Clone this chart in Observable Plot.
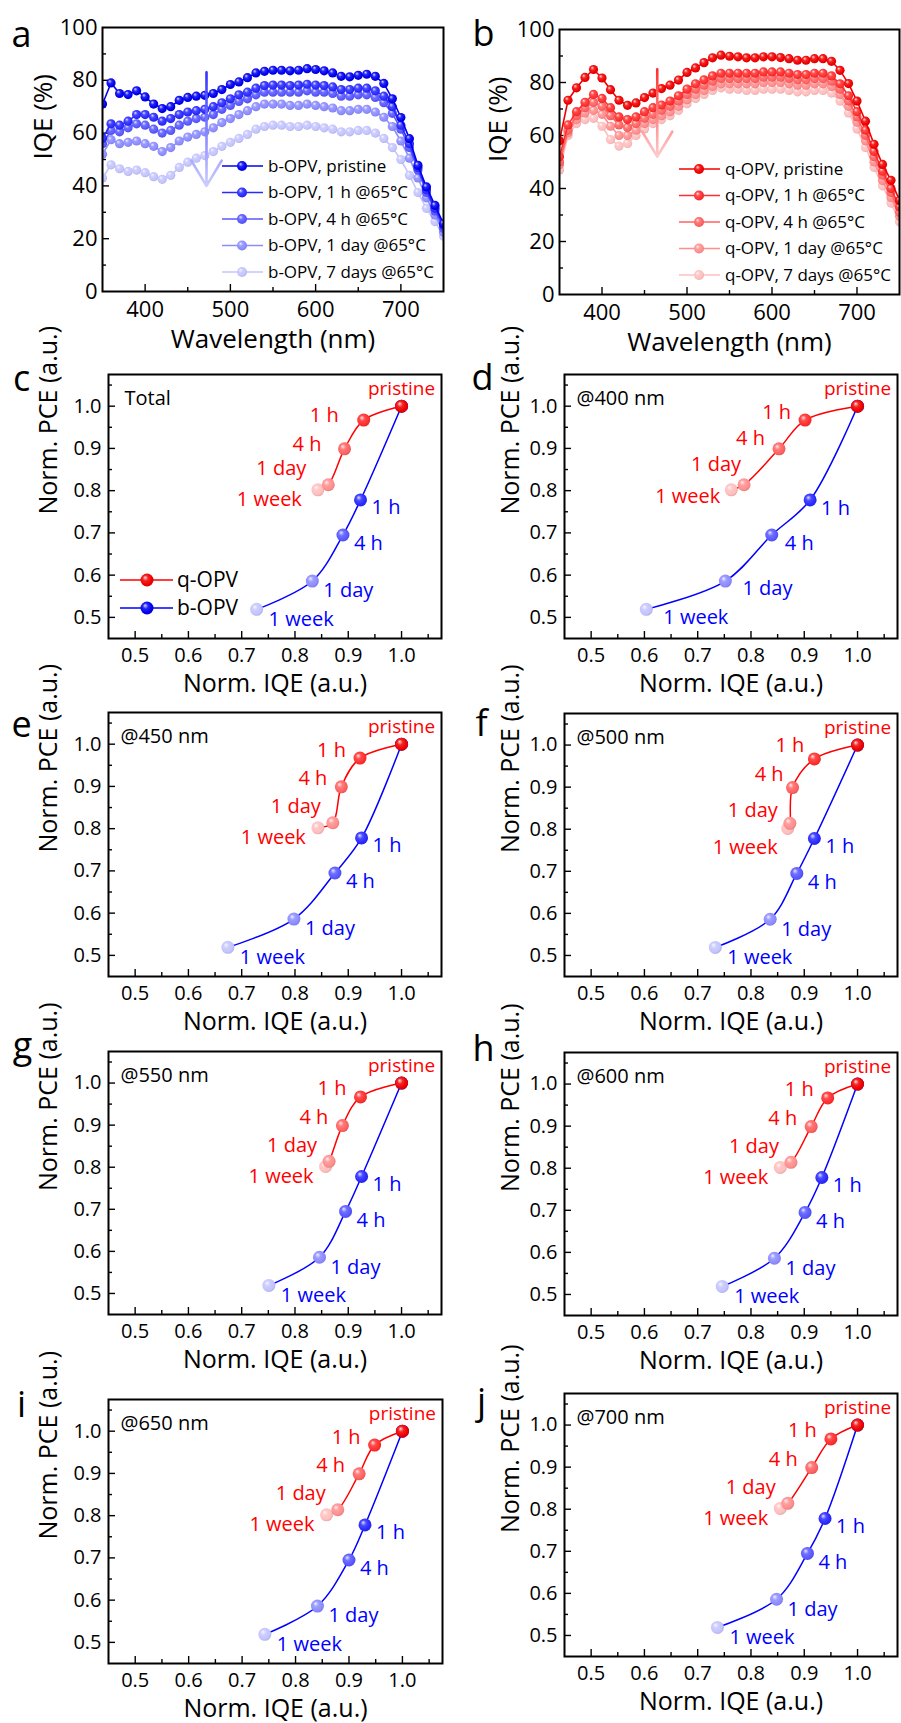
<!DOCTYPE html>
<html><head><meta charset="utf-8">
<script src="https://cdn.jsdelivr.net/npm/d3@7"></script>
<script src="https://cdn.jsdelivr.net/npm/@observablehq/plot@0.6"></script>
<style>
body{margin:0;background:#fff;}
#fig{position:relative;width:901px;height:1723px;font-family:"Open Sans",sans-serif;overflow:hidden;}
#fig svg.panel{position:absolute;overflow:visible;}
</style></head><body><div id="fig"></div>
<script>
// ---------- DATA ----------
const wavelengths = [350,360,370,380,390,400,410,420,430,440,450,460,470,480,490,500,510,520,530,540,550,560,570,580,590,600,610,620,630,640,650,660,670,680,690,700,710,720,730,740,750];

const bPristine = [71,79,75,74.6,76,73.7,71,69.3,70,72.4,73.5,74,74.3,75,76.5,78.4,79.4,81,82.8,83.4,83.8,83.8,83.6,83.8,84.4,84.1,83.6,82.8,81.5,81.3,81.9,82.3,81.5,78.8,73,65.9,57.9,47.8,39.6,32.6,25.7];
const b1h = [58,63.5,63,64.5,67,67,66,64.5,65.5,67,68,68.5,69,70,71.5,73,74.5,75.5,77,78,78.2,78.2,78,78.2,78.5,78.2,78,77.5,76.5,76.5,77,77,76,74,70,63,56,47,38.5,31.5,25];
const b4h = [56,61,60.5,62,63.5,63,61.5,60,61,63,64.5,65.5,66,67,69,70.5,72,73,74.5,75.5,75.5,75.5,75.5,75.5,76,75.5,75.5,75,74,74,74.5,74.5,73.5,71.5,67.5,61.5,54.5,46,37.5,30.5,24];
const b1d = [52,57.5,56,56.5,57,56,55,53,54.5,57,58.5,59.5,60.5,62,64,65.5,67,68.5,70,71,71,71,70.5,70.5,71,70.5,70,69.5,68.5,68.5,69,69,68,66,62.5,57,50.5,43,35.5,29,22.5];
const b7d = [43,48,46.5,45.5,46,45,43.5,42.5,44,47,49,50.5,51.5,53,55,56.5,58,59.5,61.5,62.5,63,63,62.5,62.5,63,62.5,62,61.5,60.5,60.5,61,61,60,58,54.5,50,44,37.5,31.5,26.5,21];

const qPristine = [58,73.3,78,81.9,84.9,81.7,77.3,73.3,71.4,72.3,74.3,76,77.7,79,80.9,83.8,85.5,87.5,89.3,90.3,89.9,89.7,89.3,89.3,89.7,89.7,89.4,89,88.4,88.4,89,89,88,84.6,79.6,73,65.4,56.7,49.1,43.1,35.5];
const q1h = [52,64,69,72.5,75.5,74,70.5,67,66,67,69,70.5,71.5,73,75,77.5,79.5,81,82.5,83.5,83.5,83.5,83.5,83.5,84,84,84,83.5,83,83,83.5,83.5,82.5,79.5,75,69,62,54,46.5,40,33];
const q4h = [50,62,67.5,70.5,72.5,71,67.5,64,63,64.5,66.5,68,69.5,71,73,75.5,77.5,79,80.5,81.5,81.5,81.5,81.5,81.5,82,82,82,81.5,81,81,81.5,81.5,80.5,77.5,73,67,60,52,45,38.5,31];
const q1d = [49,61,66,68.5,69.5,68,63.5,60,60,62,64.5,66,67.5,69,71,73.5,75.5,77,78.5,79.5,79.5,79.5,79.5,79.5,80,80,80,79.5,79,79,79.5,79.5,78.5,75.5,71,65,58,50,43,36.5,29.5];
const q7d = [47,60,64.5,66,66.5,63.5,58.5,56,57,60,62.5,64.5,66,67.5,69.5,72,74,75.5,77,78,77.5,77.5,77,77,77.5,77.5,77.5,77,76.5,76.5,77,77,76,73,68.5,62.5,55.5,48,41,34.5,27.5];

const bLegend = ["b-OPV, pristine","b-OPV, 1 h @65°C","b-OPV, 4 h @65°C","b-OPV, 1 day @65°C","b-OPV, 7 days @65°C"];
const qLegend = ["q-OPV, pristine","q-OPV, 1 h @65°C","q-OPV, 4 h @65°C","q-OPV, 1 day @65°C","q-OPV, 7 days @65°C"];
const arrowA = [{x: 472, from: 83, to: 40}];
const arrowB = [{x: 465, from: 85, to: 52}];

const stages = ["pristine","1 h","4 h","1 day","1 week"];
const pceQ = [1.0, 0.967, 0.899, 0.814, 0.802];
const pceB = [1.0, 0.778, 0.695, 0.586, 0.519];

const panelTitles = ["Total","@400 nm","@450 nm","@500 nm","@550 nm","@600 nm","@650 nm","@700 nm"];
const iqeQTotal = [1.0, 0.929, 0.893, 0.8625, 0.843];
const iqeBTotal = [1.0, 0.923, 0.890, 0.8325, 0.728];
const iqeQ400 = [1.0, 0.9015, 0.8526, 0.787, 0.763];
const iqeB400 = [1.0, 0.911, 0.839, 0.752, 0.6035];
const iqeQ450 = [1.0, 0.922, 0.887, 0.871, 0.843];
const iqeB450 = [1.0, 0.925, 0.875, 0.798, 0.674];
const iqeQ500 = [1.0, 0.919, 0.878, 0.873, 0.869];
const iqeB500 = [1.0, 0.919, 0.886, 0.836, 0.733];
const iqeQ550 = [1.0, 0.923, 0.889, 0.864, 0.8575];
const iqeB550 = [1.0, 0.925, 0.895, 0.846, 0.751];
const iqeQ600 = [1.0, 0.944, 0.913, 0.875, 0.855];
const iqeB600 = [1.0, 0.933, 0.9015, 0.844, 0.746];
const iqeQ650 = [1.0, 0.948, 0.919, 0.879, 0.858];
const iqeB650 = [1.0, 0.930, 0.900, 0.841, 0.7425];
const iqeQ700 = [1.0, 0.950, 0.914, 0.869, 0.855];
const iqeB700 = [1.0, 0.939, 0.906, 0.848, 0.737];

const normTicks = [0.5,0.6,0.7,0.8,0.9,1.0];
const normMinor = [0.55,0.65,0.75,0.85,0.95,1.05];
const wlTicks = [400,500,600,700];
const wlMinor = [450,550,650];
const iqeTicks = [0,20,40,60,80,100];
const iqeMinor = [10,30,50,70,90];

// ---------- STYLE ----------
const bColors = ["#0000f0","#2a2aff","#5858ff","#8c8cff","#c4c4ff"];
const qColors = ["#f00000","#ff2e2e","#ff6262","#ff8e8e","#ffbebe"];
const FONT = "'Open Sans', sans-serif";

const fig = document.getElementById("fig");
const defsSvg = d3.select(fig).append("svg").attr("width",0).attr("height",0).style("position","absolute");
const defs = defsSvg.append("defs");
function addBall(id, c) {
  const g = defs.append("radialGradient").attr("id", id)
    .attr("cx","45%").attr("cy","45%").attr("r","60%").attr("fx","35%").attr("fy","30%");
  g.append("stop").attr("offset","0%").attr("stop-color", d3.interpolateRgb(c,"#fff")(0.85));
  g.append("stop").attr("offset","35%").attr("stop-color", d3.interpolateRgb(c,"#fff")(0.15));
  g.append("stop").attr("offset","75%").attr("stop-color", c);
  g.append("stop").attr("offset","100%").attr("stop-color", d3.color(c).darker(0.4).formatHex());
}
bColors.forEach((c,k) => addBall("b"+k, c));
qColors.forEach((c,k) => addBall("q"+k, c));
function addLinear(id, c1, c2) {
  const g = defs.append("linearGradient").attr("id", id).attr("x1",0).attr("y1",0).attr("x2",0).attr("y2",1);
  g.append("stop").attr("offset","0%").attr("stop-color", c1);
  g.append("stop").attr("offset","100%").attr("stop-color", c2);
}
addLinear("arrowGradB", "#3232ff", "#cdcdff");
addLinear("arrowGradQ", "#ff3030", "#ffcccc");

function dims(p) {
  return {width: p.W, height: p.H, marginLeft: p.L - p.sx, marginRight: p.sx + p.W - p.R,
          marginTop: p.T - p.sy, marginBottom: p.sy + p.H - p.B};
}
function place(svg, p) {
  svg.classList.add("panel");
  svg.style.left = p.sx + "px";
  svg.style.top = p.sy + "px";
  fig.appendChild(svg);
}
const svgStyle = {overflow: "visible", background: "none", fontFamily: FONT, fontSize: "20px", color: "#000"};

function legendMark(entries, o) {
  return (index, scales, values, dim) => {
    const L = dim.marginLeft, B = dim.height - dim.marginBottom;
    const g = d3.create("svg:g");
    const n = entries.length;
    entries.forEach((e, i) => {
      const y = B + o.y0 - (n - 1 - i) * o.step;
      g.append("line").attr("x1", L + o.x1).attr("x2", L + o.x2).attr("y1", y).attr("y2", y)
        .attr("stroke", e.color).attr("stroke-width", 1.6);
      g.append("circle").attr("cx", L + o.xd).attr("cy", y).attr("r", o.r).attr("fill", `url(#${e.grad})`);
      g.append("text").attr("x", L + o.xt).attr("y", y).attr("dy", "0.35em").attr("text-anchor", "start")
        .attr("font-size", o.fs).attr("font-family", FONT).attr("fill", "#000").text(e.label);
    });
    return g.node();
  };
}

function commonFrameMarks(p, fw, fh, xMaj, xMin, yMaj, yMin) {
  return [
    Plot.tickX(xMaj, {x: d => d, insetTop: fh - 7, stroke: "#000", strokeWidth: 1.4}),
    Plot.tickX(xMin, {x: d => d, insetTop: fh - 4, stroke: "#000", strokeWidth: 1.4}),
    Plot.tickY(yMaj, {y: d => d, insetRight: fw - 7, stroke: "#000", strokeWidth: 1.4}),
    Plot.tickY(yMin, {y: d => d, insetRight: fw - 4, stroke: "#000", strokeWidth: 1.4})
  ];
}

// ---------- PANELS a, b ----------
function spectrumPanel(p) {
  const fw = p.R - p.L, fh = p.B - p.T;
  const marks = [...commonFrameMarks(p, fw, fh, wlTicks, wlMinor, iqeTicks.slice(1,5), iqeMinor)];
  for (let k = 4; k >= 0; k--) {
    const rows = wavelengths.map((w, i) => ({w, v: p.series[k][i]}));
    marks.push(Plot.line(rows, {x: "w", y: "v", stroke: p.colors[k], strokeWidth: 1.6, clip: true}));
    marks.push(Plot.dot(rows, {x: "w", y: "v", r: 4.6, fill: `url(#${p.key}${k})`, clip: true}));
  }
  marks.push(Plot.arrow(p.arrow, {x: "x", y1: "from", y2: "to", stroke: p.colors[1], strokeWidth: 2.6, headLength: 17, headAngle: 62}));
  marks.push(legendMark(p.legend.map((label, k) => ({label, color: p.colors[k], grad: p.key + k})),
    {x1: 120, x2: 161, xd: 140, xt: 166, y0: -19, step: 26.5, r: 5, fs: 17}));
  marks.push(Plot.frame({stroke: "#000", strokeWidth: 2}));
  marks.push(Plot.axisX(wlTicks, {anchor: "bottom", tickSize: 0, tickPadding: 10, fontSize: 22, label: null}));
  marks.push(Plot.axisY(iqeTicks, {anchor: "left", tickSize: 0, tickPadding: 5, fontSize: 22, label: null}));
  marks.push(Plot.text(["Wavelength (nm)"], {text: d => d, frameAnchor: "bottom", dy: 48, lineAnchor: "middle", fontSize: 26}));
  marks.push(Plot.text(["IQE (%)"], {text: d => d, frameAnchor: "left", dx: p.yTitleDx, rotate: -90, lineAnchor: "middle", fontSize: 26}));
  marks.push(Plot.text([p.letter], {text: d => d, frameAnchor: "top-left", dx: p.letterDx, dy: p.letterDy, textAnchor: "middle", lineAnchor: "bottom", fontSize: 36}));
  const svg = Plot.plot({
    ...dims(p), style: svgStyle,
    x: {domain: [350, 750]}, y: {domain: [0, 100]},
    marks
  });
  d3.select(svg).selectAll('g[aria-label="arrow"], g[aria-label="arrow"] path').attr("stroke", `url(#${p.arrowGrad})`);
  place(svg, p);
}

spectrumPanel({key: "b", letter: "a", series: [bPristine, b1h, b4h, b1d, b7d], colors: bColors, legend: bLegend,
  arrow: arrowA, arrowGrad: "arrowGradB",
  L: 102, R: 443, T: 27, B: 291, sx: 0, sy: 0, W: 450, H: 340, letterDx: -81, letterDy: 19, yTitleDx: -59});
spectrumPanel({key: "q", letter: "b", series: [qPristine, q1h, q4h, q1d, q7d], colors: qColors, legend: qLegend,
  arrow: arrowB, arrowGrad: "arrowGradQ",
  L: 559, R: 899, T: 29, B: 294, sx: 450, sy: 0, W: 451, H: 340, letterDx: -76, letterDy: 16, yTitleDx: -61});

// ---------- PANELS c - j ----------
// label offsets (px) from each point: [pristine, 1 h, 4 h, 1 day, 1 week]
const qLabDefault = [[0,-17],[-14,-8],[-14,-8],[-12,-16],[-12,10]];
const qLabC = [[0,-17],[-25,-5],[-23,-4],[-22,-16],[-16,10]];
const qLabD = [[0,-17],[-14,-8],[-14,-10],[-3,-20],[-11,7]];
const qLabF = [[0,-17],[-10,-13],[-9,-13],[-12,-13],[-10,19]];
const bLabDefault = [null,[11,8],[11,9],[11,10],[12,10]];
const bLabD = [null,[11,9],[13,9],[17,8],[17,8]];

function pcePanel(p) {
  const fw = p.R - p.L, fh = p.B - p.T;
  const qRows = stages.map((s, i) => ({s, x: p.q[i], y: pceQ[i]}));
  const bRows = stages.map((s, i) => ({s, x: p.b[i], y: pceB[i]}));
  const qLab = p.qLab || qLabDefault, bLab = p.bLab || bLabDefault;
  const marks = [...commonFrameMarks(p, fw, fh, normTicks, normMinor, normTicks, normMinor)];
  marks.push(Plot.line(bRows, {x: "x", y: "y", stroke: "#0000ff", strokeWidth: 1.5, curve: "catmull-rom"}));
  for (let i = 4; i >= 0; i--) marks.push(Plot.dot([bRows[i]], {x: "x", y: "y", r: 6.5, fill: `url(#b${i})`}));
  marks.push(Plot.line(qRows, {x: "x", y: "y", stroke: "#ff0000", strokeWidth: 1.5, curve: "catmull-rom"}));
  for (let i = 4; i >= 0; i--) marks.push(Plot.dot([qRows[i]], {x: "x", y: "y", r: 6.5, fill: `url(#q${i})`}));
  for (let i = 0; i < 5; i++) {
    const o = qLab[i];
    marks.push(Plot.text([qRows[i]], {x: "x", y: "y", text: "s", dx: o[0], dy: o[1], textAnchor: i === 0 ? "middle" : "end",
      lineAnchor: "middle", fill: "#ff0000", fontSize: i === 0 ? 19 : 20}));
    if (bLab[i]) {
      const b = bLab[i];
      marks.push(Plot.text([bRows[i]], {x: "x", y: "y", text: "s", dx: b[0], dy: b[1], textAnchor: "start", lineAnchor: "middle", fill: "#0000ff", fontSize: 20}));
    }
  }
  if (p.legend) {
    marks.push(legendMark([{label: "q-OPV", color: "#ff0000", grad: "q0"}, {label: "b-OPV", color: "#0000ff", grad: "b0"}],
      {x1: 12, x2: 65, xd: 39, xt: 69, y0: -30, step: 28, r: 6.5, fs: 21}));
  }
  marks.push(Plot.frame({stroke: "#000", strokeWidth: 2}));
  marks.push(Plot.axisX(normTicks, {anchor: "bottom", tickSize: 0, tickPadding: 9, fontSize: 20, tickFormat: ".1f", label: null}));
  marks.push(Plot.axisY(normTicks, {anchor: "left", tickSize: 0, tickPadding: 7, fontSize: 20, tickFormat: ".1f", label: null}));
  marks.push(Plot.text(["Norm. IQE (a.u.)"], {text: d => d, frameAnchor: "bottom", dy: 45, lineAnchor: "middle", fontSize: 25}));
  marks.push(Plot.text(["Norm. PCE (a.u.)"], {text: d => d, frameAnchor: "left", dx: p.yTitleDx, dy: 8, rotate: -90, lineAnchor: "middle", fontSize: 25}));
  marks.push(Plot.text([p.title], {text: d => d, frameAnchor: "top-left", dx: p.titleDx || 12, dy: 24, textAnchor: "start", lineAnchor: "middle", fontSize: 20}));
  marks.push(Plot.text([p.letter], {text: d => d, frameAnchor: "top-left", dx: p.letterDx, dy: p.letterDy, textAnchor: "middle", lineAnchor: "bottom", fontSize: 36}));
  const svg = Plot.plot({
    ...dims(p), style: svgStyle,
    x: {domain: [0.45, 1.075]}, y: {domain: [0.45, 1.075]},
    marks
  });
  place(svg, p);
}

const leftCol = {L: 108, R: 441, sx: 0, W: 450, yTitleDx: -60};
const rightCol = {L: 564, R: 897, sx: 450, W: 451, yTitleDx: -54};
pcePanel({...leftCol, letter: "c", title: panelTitles[0], q: iqeQTotal, b: iqeBTotal, legend: true, qLab: qLabC, titleDx: 16, T: 374, B: 638, sy: 340, H: 340, letterDx: -87, letterDy: 16});
pcePanel({...rightCol, letter: "d", title: panelTitles[1], q: iqeQ400, b: iqeB400, qLab: qLabD, bLab: bLabD, T: 374, B: 638, sy: 340, H: 340, letterDx: -82, letterDy: 15});
pcePanel({...leftCol, letter: "e", title: panelTitles[2], q: iqeQ450, b: iqeB450, T: 712, B: 976, sy: 680, H: 338, letterDx: -87, letterDy: 24});
pcePanel({...rightCol, letter: "f", title: panelTitles[3], q: iqeQ500, b: iqeB500, qLab: qLabF, T: 713, B: 976, sy: 680, H: 338, letterDx: -83, letterDy: 22});
pcePanel({...leftCol, letter: "g", title: panelTitles[4], q: iqeQ550, b: iqeB550, T: 1051, B: 1314, sy: 1018, H: 342, letterDx: -86, letterDy: 6});
pcePanel({...rightCol, letter: "h", title: panelTitles[5], q: iqeQ600, b: iqeB600, T: 1052, B: 1315, sy: 1018, H: 342, letterDx: -81, letterDy: 8});
pcePanel({...leftCol, R: 442, letter: "i", title: panelTitles[6], q: iqeQ650, b: iqeB650, T: 1399, B: 1663, sy: 1360, H: 363, letterDx: -87, letterDy: 17});
pcePanel({...rightCol, letter: "j", title: panelTitles[7], q: iqeQ700, b: iqeB700, T: 1393, B: 1656, sy: 1360, H: 363, letterDx: -83, letterDy: 20});
</script></body></html>
